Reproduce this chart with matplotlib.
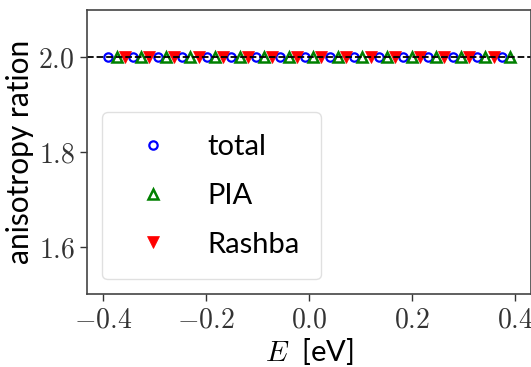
import numpy as np
import matplotlib
matplotlib.use("Agg")
import matplotlib.pyplot as plt
from matplotlib.ticker import FuncFormatter

plt.rcParams['font.family'] = ['Lato', 'DejaVu Sans']
plt.rcParams['mathtext.fontset'] = 'cm'

# energy grid and anisotropy ratios for each contribution
energy = np.linspace(-0.39, 0.39, 50)
ratio_total = [2.0] * 50
ratio_pia = [2.0] * 50
ratio_rashba = [2.0] * 50
reference_level = 2.0

xticks = [-0.4, -0.2, 0.0, 0.2, 0.4]
yticks = [1.6, 1.8, 2.0]

fig = plt.figure(figsize=(5.31, 3.67), dpi=100)
ax = fig.add_axes([87.3 / 531, 1 - 294 / 367, (530.5 - 87.3) / 531, (294 - 10) / 367])

ax.plot(energy, ratio_total, ls='none', marker='o', ms=6, mfc='none', mec='blue',
        mew=1.6, markevery=(0, 3), label='total')
ax.plot(energy, ratio_pia, ls='none', marker='^', ms=7, mfc='none', mec='green',
        mew=1.8, markevery=(1, 3), label='PIA')
ax.plot(energy, ratio_rashba, ls='none', marker='v', ms=8, mfc='red', mec='red',
        mew=0.5, markevery=(2, 3), label='Rashba')
ax.axhline(reference_level, color='black', ls='--', lw=1.3)

ax.set_xlim(-0.431, 0.430)
ax.set_ylim(1.5, 2.1)
ax.set_xticks(xticks)
ax.set_yticks(yticks)

fmt = FuncFormatter(lambda v, _: r'$%.1f$' % v)
ax.xaxis.set_major_formatter(fmt)
ax.yaxis.set_major_formatter(fmt)
ax.tick_params(labelsize=20, colors='#333333', length=5, width=1, pad=4)
for s in ax.spines.values():
    s.set_color('#444444')
    s.set_linewidth(1.2)

ax.set_xlabel(r'$E$  [eV]', fontsize=21, labelpad=2.5)
ax.set_ylabel('anisotropy ration', fontsize=21.5, labelpad=3)

ax.legend(loc='lower left', fontsize=21, numpoints=1, handlelength=2.0,
          borderpad=0.75, labelspacing=0.78, handletextpad=0.85, edgecolor='0.85')

fig.savefig('out.png', dpi=100)
